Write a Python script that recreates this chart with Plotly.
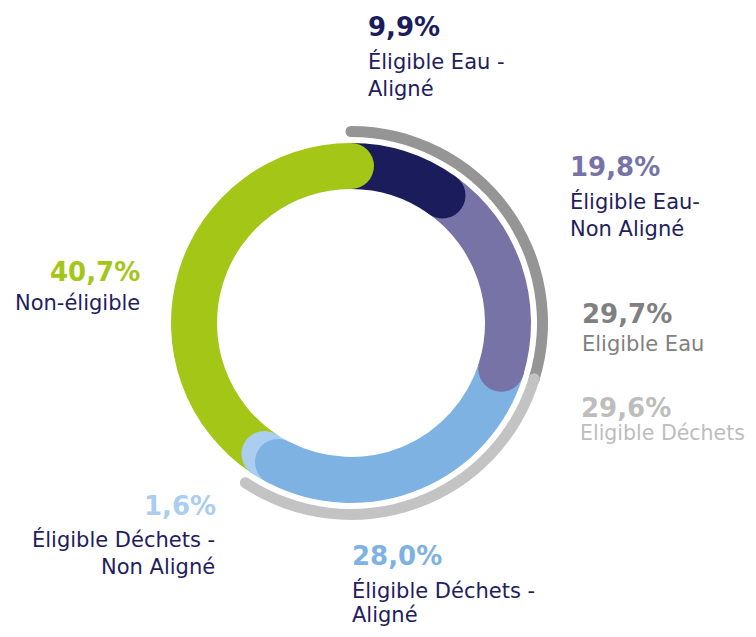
import plotly.graph_objects as go

# ---- data ----
seg_names = ["Éligible Eau - Aligné", "Éligible Eau - Non Aligné",
             "Éligible Déchets - Aligné", "Éligible Déchets - Non Aligné", "Non-éligible"]
seg_values = [9.9, 19.8, 28.0, 1.6, 40.7]
seg_colors = ["#1b1c5c", "#7773a6", "#7db2e3", "#aacdf0", "#a3c617"]

group_names = ["Eligible Eau", "Eligible Déchets"]
group_values = [29.7, 29.6]
group_colors = ["#959595", "#c3c3c3"]

pct_labels = ["9,9%", "19,8%", "28,0%", "1,6%", "40,7%"]
grp_labels = ["29,7%", "29,6%"]

# ---- layout geometry (pixels, in reference/window coordinates) ----
OFF = 8                      # page body margin
W, H = 756 - 2 * OFF, 637 - 2 * OFF
CX, CY = 351 - OFF, 323 - OFF
RMAX = 200
R_IN, R_OUT = 134, 180
G_IN, G_OUT = 186, 197
ring_px = R_OUT - R_IN
gray_px = G_OUT - G_IN

def deg(v):
    return v * 3.6

fig = go.Figure()

# donut segments
starts = []
acc = 0.0
for v in seg_values:
    starts.append(acc)
    acc += v
for name, v, s, c in zip(seg_names, seg_values, starts, seg_colors):
    fig.add_trace(go.Barpolar(
        r=[R_OUT - R_IN], base=[R_IN], theta=[deg(s + v / 2)], width=[deg(v)],
        marker=dict(color=c, line=dict(width=0)), name=name, hoverinfo="skip"))

# outer group arcs
gstarts = []
acc = 0.0
for v in group_values:
    gstarts.append(acc)
    acc += v
for name, v, s, c in zip(group_names, group_values, gstarts, group_colors):
    fig.add_trace(go.Barpolar(
        r=[G_OUT - G_IN], base=[G_IN], theta=[deg(s + v / 2)], width=[deg(v)],
        marker=dict(color=c, line=dict(width=0)), name=name, hoverinfo="skip"))

# rounded caps for the donut segments (end of each segment)
cap_order = [3, 2, 1, 0, 4]
for i in cap_order:
    end = starts[i] + seg_values[i]
    fig.add_trace(go.Scatterpolar(
        r=[(R_IN + R_OUT) / 2], theta=[deg(end)], mode="markers",
        marker=dict(size=ring_px, color=seg_colors[i], line=dict(width=0)),
        hoverinfo="skip"))

# rounded caps for the group arcs
gmid = (G_IN + G_OUT) / 2
fig.add_trace(go.Scatterpolar(
    r=[gmid, gmid], theta=[deg(gstarts[0]), deg(gstarts[0] + group_values[0])], mode="markers",
    marker=dict(size=gray_px, color=group_colors[0], line=dict(width=0)), hoverinfo="skip"))
fig.add_trace(go.Scatterpolar(
    r=[gmid, gmid], theta=[deg(gstarts[1]), deg(gstarts[1] + group_values[1])], mode="markers",
    marker=dict(size=gray_px, color=group_colors[1], line=dict(width=0)), hoverinfo="skip"))

fig.update_layout(
    width=W, height=H,
    margin=dict(l=0, r=0, t=0, b=0),
    paper_bgcolor="white", plot_bgcolor="white",
    showlegend=False,
    polar=dict(
        domain=dict(x=[(CX - RMAX) / W, (CX + RMAX) / W],
                    y=[(H - CY - RMAX) / H, (H - CY + RMAX) / H]),
        bgcolor="rgba(0,0,0,0)",
        hole=0,
        barmode="overlay",
        radialaxis=dict(range=[0, RMAX], visible=False),
        angularaxis=dict(rotation=90, direction="clockwise", visible=False),
    ),
)

FONT = "DejaVu Sans"
NAVY = "#1e205e"
PF, LF = 26, 21

def ann(text, x, y_top, anchor, size, color, bold=False, align="left"):
    t = f"<b>{text}</b>" if bold else text
    fig.add_annotation(text=t, x=(x - OFF) / W, y=1 - (y_top - OFF) / H,
                       xref="paper", yref="paper",
                       xanchor=anchor, yanchor="top", showarrow=False, align=align,
                       font=dict(family=FONT, size=size, color=color))

# percentages
ann(pct_labels[0], 366, 10, "left", PF, seg_colors[0], True)
ann(pct_labels[1], 568, 150, "left", PF, seg_colors[1], True)
ann(pct_labels[2], 350, 539, "left", PF, seg_colors[2], True)
ann(pct_labels[3], 218, 489, "right", PF, seg_colors[3], True)
ann(pct_labels[4], 142, 255, "right", PF, seg_colors[4], True)
ann(grp_labels[0], 580, 297, "left", PF, "#808080", True)
ann(grp_labels[1], 579, 391, "left", PF, "#bdbdbd", True)

# names
ann("Éligible Eau -<br>Aligné", 366, 47, "left", LF, NAVY)
ann("Éligible Eau-<br>Non Aligné", 568, 187, "left", LF, NAVY)
ann("Éligible Déchets -", 350, 576, "left", LF, NAVY)
ann("Aligné", 350, 601, "left", LF, NAVY)
ann("Éligible Déchets -<br>Non Aligné", 217, 525, "right", LF, NAVY, align="right")
ann("Non-éligible", 142, 289, "right", LF, NAVY)
ann("Eligible Eau", 580, 330, "left", LF, "#808080")
ann("Eligible Déchets", 578, 419, "left", 20.5, "#bdbdbd")

fig.write_html("out.html")
